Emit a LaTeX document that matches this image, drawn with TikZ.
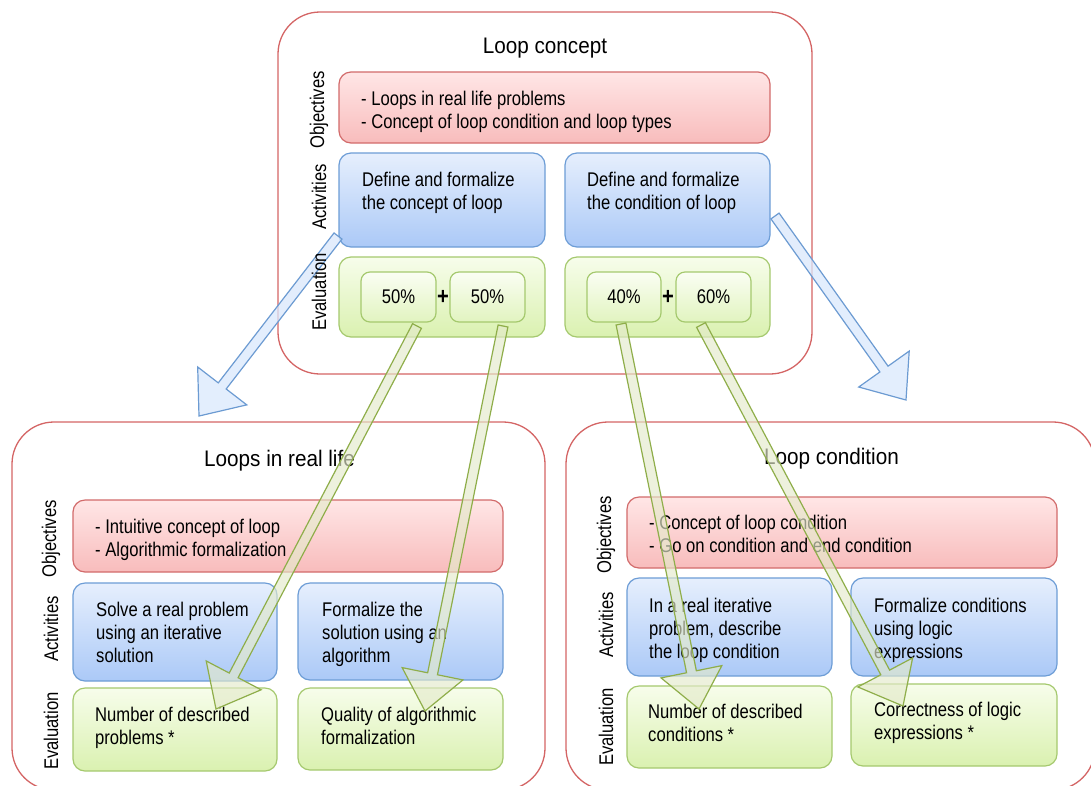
\documentclass[tikz,border=0pt]{standalone}
\usepackage{fontspec}
\setmainfont{Liberation Sans}[FakeStretch=0.84]
\newfontfamily\titlefont{Liberation Sans}[FakeStretch=0.92]
\usetikzlibrary{calc}
\definecolor{contline}{HTML}{D46565}
\definecolor{redline}{HTML}{D26B6B}
\definecolor{redtop}{HTML}{FFE6E6}
\definecolor{redbot}{HTML}{F8BCBC}
\definecolor{blueline}{HTML}{6D9DD6}
\definecolor{bluetop}{HTML}{E6EFFD}
\definecolor{bluebot}{HTML}{ABC9F7}
\definecolor{greenline}{HTML}{A5C96E}
\definecolor{greentop}{HTML}{F7FDEB}
\definecolor{greenbot}{HTML}{DAF1B0}
\definecolor{garrowfill}{HTML}{E4EACB}
\definecolor{garrowline}{HTML}{8FAE4A}
\definecolor{barrowfill}{HTML}{DAE8FC}
\definecolor{barrowline}{HTML}{6C9BD2}
\newcommand{\lines}[1]{\begin{tabular}[t]{@{}l@{}}#1\end{tabular}}
\newcommand{\blockarrow}[3]{%
  \path coordinate (bab) at ($(#3)!38pt!(#2)$);
  \draw[#1] ($(#2)!5pt!90:(#3)$) -- ($(bab)!5pt!-90:(#2)$) -- ($(bab)!31pt!-90:(#2)$)
    -- (#3) -- ($(bab)!31pt!90:(#2)$) -- ($(bab)!5pt!90:(#2)$) -- ($(#2)!5pt!-90:(#3)$) -- cycle;
}
\begin{document}
\begin{tikzpicture}[x=1pt,y=-1pt,
  font=\fontsize{19.8}{23}\selectfont,
  container/.style={draw=contline, line width=1.3pt, fill=white, rounded corners=42pt, minimum width=#1},
  obox/.style={draw=redline, line width=1.2pt, rounded corners=12pt, top color=redtop, bottom color=redbot, inner sep=0},
  abox/.style={draw=blueline, line width=1.2pt, rounded corners=12pt, top color=bluetop, bottom color=bluebot, inner sep=0},
  ebox/.style={draw=greenline, line width=1.2pt, rounded corners=12pt, top color=greentop, bottom color=greenbot, inner sep=0},
  pbox/.style={draw=greenline, line width=1.2pt, rounded corners=9pt, top color=greentop!60!white, bottom color=greenbot!80!white, inner sep=0, minimum height=50pt},
  txt/.style={anchor=base west, inner sep=0},
  ttl/.style={anchor=base, inner sep=0, font=\titlefont\fontsize{22.5}{26}\selectfont},
  lab/.style={rotate=90, inner sep=0},
  plus/.style={inner sep=0, font=\bfseries\fontsize{24}{24}\selectfont},
  garrow/.style={draw=garrowline, line width=1.2pt, fill=garrowfill, fill opacity=0.65, line join=miter},
  barrow/.style={draw=barrowline, line width=1.2pt, fill=barrowfill, fill opacity=0.75, line join=miter}
]
\useasboundingbox (0,0) rectangle (1091,785);
\clip (0,0) rectangle (1091,785);

% ---------- top panel ----------
\node[container=534pt, minimum height=362pt] (topc) at (545,193) {};
\node[ttl] (toptitle) at (545,53) {Loop concept};
\node[obox, minimum width=431pt, minimum height=71pt] (topobj) at (554.5,107.5) {};
\node[txt] (topobjt) at (361,105) {\lines{- Loops in real life problems\\- Concept of loop condition and loop types}};
\node[abox, minimum width=206pt, minimum height=94pt] (topactl) at (442,200) {};
\node[txt] (topactlt) at (362,186) {\lines{Define and formalize\\the concept of loop}};
\node[abox, minimum width=205pt, minimum height=94pt] (topactr) at (667.5,200) {};
\node[txt] (topactrt) at (587,186) {\lines{Define and formalize\\the condition of loop}};
\node[ebox, minimum width=206pt, minimum height=80pt] (topevl) at (442,297) {};
\node[ebox, minimum width=205pt, minimum height=80pt] (topevr) at (667.5,297) {};
\node[pbox, minimum width=75pt] (p1) at (398.5,297) {50\%};
\node[pbox, minimum width=75pt] (p2) at (487.5,297) {50\%};
\node[pbox, minimum width=74pt] (p3) at (624,297) {40\%};
\node[pbox, minimum width=75pt] (p4) at (713.5,297) {60\%};
\node[plus] (plus1) at (443,297) {+};
\node[plus] (plus2) at (668,297) {+};
\node[lab] (toplo) at (319,110) {Objectives};
\node[lab] (topla) at (319,197) {Activities};

% ---------- bottom left panel ----------
\node[container=533pt, minimum height=368pt] (blc) at (278.5,606) {};
\node[ttl] (bltitle) at (279.5,466) {Loops in real life};
\node[obox, minimum width=430pt, minimum height=72pt] (blobj) at (288,536) {};
\node[txt] (blobjt) at (95,533) {\lines{- Intuitive concept of loop\\- Algorithmic formalization}};
\node[abox, minimum width=204pt, minimum height=98pt] (blactl) at (175,632) {};
\node[txt] (blactlt) at (96,616) {\lines{Solve a real problem\\using an iterative\\solution}};
\node[abox, minimum width=205pt, minimum height=97pt] (blactr) at (400.5,631.5) {};
\node[txt] (blactrt) at (322,616) {\lines{Formalize the\\solution using an\\algorithm}};
\node[ebox, minimum width=204pt, minimum height=83pt] (blevl) at (175,729.5) {};
\node[txt] (blevlt) at (95,721) {\lines{Number of described\\problems *}};
\node[ebox, minimum width=205pt, minimum height=82pt] (blevr) at (400.5,729) {};
\node[txt] (blevrt) at (321,721) {\lines{Quality of algorithmic\\formalization}};
\node[lab] (bllo) at (51,539) {Objectives};
\node[lab] (blla) at (51,629) {Activities};
\node[lab] (blle) at (51,731) {Evaluation};

% ---------- bottom right panel ----------
\node[container=529pt, minimum height=368pt] (brc) at (830.5,606) {};
\node[ttl] (brtitle) at (831.5,464) {Loop condition};
\node[obox, minimum width=430pt, minimum height=71pt] (brobj) at (842,532.5) {};
\node[txt] (brobjt) at (649,529) {\lines{- Concept of loop condition\\- Go on condition and end condition}};
\node[abox, minimum width=205pt, minimum height=98pt] (bractl) at (729.5,627) {};
\node[txt] (bractlt) at (649,612) {\lines{In a real iterative\\problem, describe\\the loop condition}};
\node[abox, minimum width=206pt, minimum height=98pt] (bractr) at (954,627) {};
\node[txt] (bractrt) at (874,612) {\lines{Formalize conditions\\using logic\\expressions}};
\node[ebox, minimum width=205pt, minimum height=82pt] (brevl) at (729.5,727) {};
\node[txt] (brevlt) at (648,718) {\lines{Number of described\\conditions *}};
\node[ebox, minimum width=206pt, minimum height=82pt] (brevr) at (954,725) {};
\node[txt] (brevrt) at (874,716) {\lines{Correctness of logic\\expressions *}};
\node[lab] (brlo) at (606,535) {Objectives};
\node[lab] (brla) at (606,625) {Activities};
\node[lab] (brle) at (606,727) {Evaluation};

% ---------- arrows ----------
\coordinate (b1s) at (338,236);
\coordinate (b1t) at (199,416);
\coordinate (b2s) at (775,216);
\coordinate (b2t) at (906,400);
\coordinate (g1s) at (417,326);
\coordinate (g1t) at (216,709);
\coordinate (g2s) at (503,326);
\coordinate (g2t) at (425,711);
\coordinate (g3s) at (621,324);
\coordinate (g3t) at (699,709);
\coordinate (g4s) at (701,325);
\coordinate (g4t) at (903,706);
\blockarrow{barrow}{b1s}{b1t}
\blockarrow{barrow}{b2s}{b2t}
\blockarrow{garrow}{g1s}{g1t}
\blockarrow{garrow}{g2s}{g2t}
\blockarrow{garrow}{g3s}{g3t}
\blockarrow{garrow}{g4s}{g4t}
\node[lab] (tople) at (319,292) {Evaluation};
\end{tikzpicture}
\end{document}
